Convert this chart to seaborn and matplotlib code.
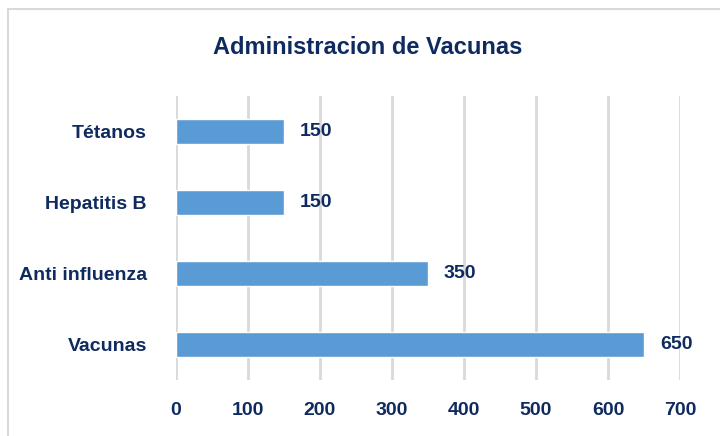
import matplotlib.pyplot as plt
import seaborn as sns
import pandas as pd
from matplotlib.patches import Rectangle

# data
categorias = ["Tétanos", "Hepatitis B", "Anti influenza", "Vacunas"]
valores = [150, 150, 350, 650]
ticks_x = [0, 100, 200, 300, 400, 500, 600, 700]

NAVY = "#0E2A5F"
BAR = "#5B9BD5"

sns.set_style("white")
plt.rcParams["font.family"] = ["Liberation Sans", "DejaVu Sans"]
plt.rcParams["font.weight"] = "bold"

df = pd.DataFrame({"vacuna": categorias, "cantidad": valores})

fig = plt.figure(figsize=(7.2, 4.36), dpi=100)
ax = fig.add_axes([0.2444, 0.1284, 0.7, 0.6514])

sns.barplot(data=df, x="cantidad", y="vacuna", orient="h", color=BAR,
            saturation=1, width=0.34, ax=ax)

ax.set_xlim(0, 700)
ax.set_xticks(ticks_x)
ax.xaxis.grid(True, color="#D9D9D9", linewidth=2)
ax.set_axisbelow(True)
for s in ax.spines.values():
    s.set_visible(False)
ax.set_xlabel("")
ax.set_ylabel("")
ax.tick_params(axis="both", length=0, labelsize=14, labelcolor=NAVY)
ax.tick_params(axis="x", pad=16)
ax.tick_params(axis="y", pad=21)
for lab in ax.get_xticklabels() + ax.get_yticklabels():
    lab.set_fontweight("bold")

ax.bar_label(ax.containers[0], labels=[str(v) for v in valores], padding=11.5,
             fontsize=14, fontweight="bold", color=NAVY)

fig.text(0.51, 0.892, "Administracion de Vacunas", ha="center", va="center",
         fontsize=17, fontweight="bold", color=NAVY)

# chart area border (runs off the right and bottom edges)
fig.patches.append(Rectangle((8 / 720, -0.1), 1.2, 1.1 - 9 / 436,
                             transform=fig.transFigure, fill=False,
                             edgecolor="#D9D9D9", linewidth=1.5))

fig.savefig("out.png", dpi=100)
